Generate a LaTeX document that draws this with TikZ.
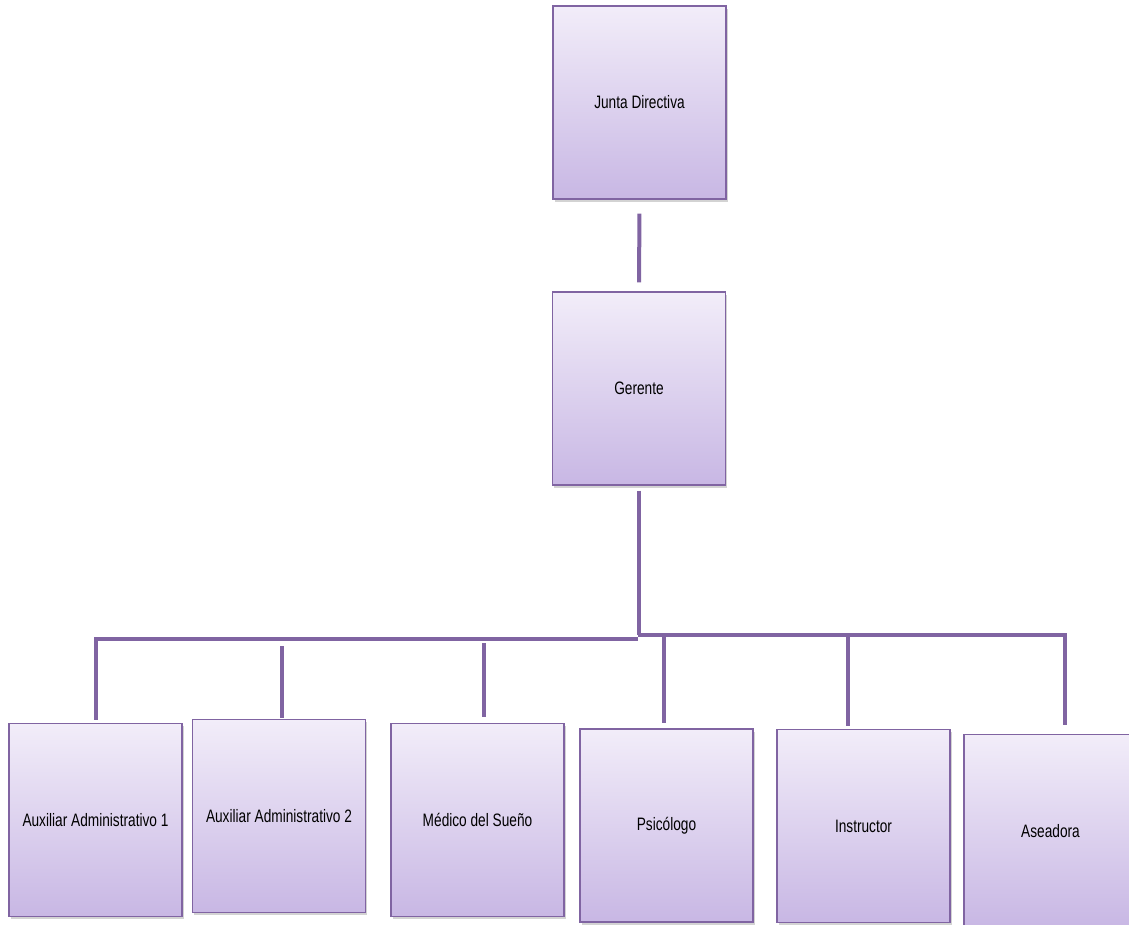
\documentclass[tikz,border=0pt]{standalone}
\usepackage{fontspec}
\setmainfont{Liberation Sans}[FakeStretch=0.76]
\usetikzlibrary{shadows}
\definecolor{lav}{RGB}{128,100,162}
\definecolor{filltop}{RGB}{242,237,249}
\definecolor{fillbot}{RGB}{200,183,228}
\tikzset{
  orgbox/.style={draw=lav, line width=1.4pt, top color=filltop, bottom color=fillbot,
    minimum width=173pt, minimum height=193pt, inner sep=0pt, align=center,
    font=\fontsize{18}{21}\selectfont,
    drop shadow={opacity=0.35, shadow xshift=1.5pt, shadow yshift=-2.5pt}},
  conn/.style={draw=lav, line width=4pt}
}
\begin{document}
\begin{tikzpicture}[x=1pt,y=-1pt]
\useasboundingbox (0,0) rectangle (1129,924);
% boxes
\node[orgbox] (jd)  at (639.5,102.5) {Junta Directiva};
\node[orgbox] (ger) at (639,388.5) {Gerente};
\node[orgbox] (a1)  at (95.5,820) {Auxiliar Administrativo 1};
\node[orgbox] (a2)  at (279,816) {Auxiliar Administrativo 2};
\node[orgbox] (med) at (477.5,820) {Médico del Sueño};
\node[orgbox] (psi) at (666.5,825.5) {Psicólogo};
\node[orgbox] (ins) at (863.5,826) {Instructor};
\node[orgbox] (ase) at (1050.5,831) {Aseadora};
% junction coordinates
\coordinate (jl) at (638,639);
\coordinate (jr) at (638,635);
\coordinate (d1) at (96,720);
\coordinate (d2) at (282,646);
\coordinate (d3) at (484,643);
\coordinate (d4) at (664,635);
\coordinate (d5) at (848,635);
\coordinate (d6) at (1065,725);
% connectors
\draw[conn, shorten <=14pt, shorten >=9pt] (jd.south) -- (ger.north);
\draw[conn, shorten <=5pt] (ger.south) -- (ger.south |- jr);
\draw[conn] (jl) -| (d1);
\draw[conn] (d2) -- ([yshift=1pt]d2 |- a2.north);
\draw[conn] (d3) -- ([yshift=6pt]d3 |- med.north);
\draw[conn] (jr) -| (d6);
\draw[conn] (d4) -- ([yshift=5pt]d4 |- psi.north);
\draw[conn] (d5) -- ([yshift=3pt]d5 |- ins.north);
\end{tikzpicture}
\end{document}
